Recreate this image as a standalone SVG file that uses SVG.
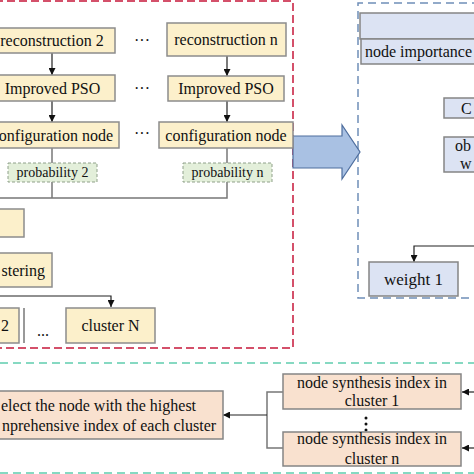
<svg xmlns="http://www.w3.org/2000/svg" width="474" height="474" viewBox="0 0 474 474">
<defs>
<style>
.y{fill:#fcf0cb;stroke:#8c8c8c;stroke-width:1.5}
.b{fill:#dce3f3;stroke:#858585;stroke-width:1.5}
.p{fill:#f9e1cf;stroke:#858585;stroke-width:1.5}
.g{fill:#e3efda;stroke:#8fa08a;stroke-width:1;stroke-dasharray:3 2}
.t{font-family:"Liberation Serif","Times New Roman",serif;font-size:16px;fill:#111}
.s{font-size:14px}
.c{stroke:#222;stroke-width:1.2;fill:none}
.gl{stroke:#777;stroke-width:1.5;fill:none}
</style>
<marker id="ah" viewBox="0 0 10 10" refX="10" refY="5" markerWidth="7" markerHeight="7" markerUnits="userSpaceOnUse" orient="auto">
<path d="M0,0 L10,5 L0,10 z" fill="#111"/>
</marker>
</defs>
<rect width="474" height="474" fill="#fff"/>

<!-- frames -->
<path d="M-5,1 H293 V348 H-5" fill="none" stroke="#d4506a" stroke-width="2" stroke-dasharray="8 4"/>
<path d="M480,3 H358 V298 H480" fill="none" stroke="#6f8fb8" stroke-width="1.5" stroke-dasharray="8 5"/>
<line x1="0" y1="363" x2="474" y2="363" stroke="#5fcdae" stroke-width="1.5" stroke-dasharray="8 5"/>
<line x1="0" y1="473" x2="474" y2="473" stroke="#5fcdae" stroke-width="1.5" stroke-dasharray="8 5"/>

<!-- connectors -->
<g id="connectors">
<line class="c" x1="52" y1="53" x2="52" y2="75" marker-end="url(#ah)"/>
<line class="c" x1="227" y1="56" x2="227" y2="76" marker-end="url(#ah)"/>
<line class="c" x1="52" y1="101" x2="52" y2="122" marker-end="url(#ah)"/>
<line class="c" x1="227" y1="101" x2="227" y2="122" marker-end="url(#ah)"/>
<line class="gl" x1="52" y1="148" x2="52" y2="163"/>
<line class="gl" x1="227" y1="148" x2="227" y2="163"/>
<path class="gl" d="M52,182 V198 M227,182 V198 H-2"/>
<path class="c" d="M-2,296 H111 V307" marker-end="url(#ah)"/>
<line class="gl" x1="24" y1="308" x2="24" y2="343"/>
<path class="c" d="M476,246 H414 V262" marker-end="url(#ah)"/>
<path d="M293,136 H342 V125 L360,152 L342,179 V168 H293 z" fill="#a9c1e3" stroke="#4e6e9e" stroke-width="1.2"/>
<line class="c" x1="476" y1="392" x2="462" y2="392" marker-end="url(#ah)"/>
<line class="c" x1="476" y1="448" x2="462" y2="448" marker-end="url(#ah)"/>
<path class="gl" d="M283,392 H267 V448 H283"/>
<line class="c" x1="267" y1="415" x2="223" y2="415" stroke-width="1.5" marker-end="url(#ah)"/>
</g>

<!-- left column -->
<g id="rec2"><rect class="y" x="-12" y="28" width="127" height="25"/><text class="t" x="52" y="46" text-anchor="middle">reconstruction 2</text></g>
<g id="recn"><rect class="y" x="167" y="23" width="119" height="33"/><text class="t" x="226" y="45" text-anchor="middle">reconstruction n</text></g>
<g id="pso2"><rect class="y" x="-12" y="75" width="127" height="26"/><text class="t" x="52.5" y="94" text-anchor="middle">Improved PSO</text></g>
<g id="psON"><rect class="y" x="168" y="76" width="116" height="25"/><text class="t" x="226" y="94" text-anchor="middle">Improved PSO</text></g>
<g id="cfg2"><rect class="y" x="-15" y="122" width="134" height="26"/><text class="t" x="113" y="141" text-anchor="end">onfiguration node</text></g>
<g id="cfgn"><rect class="y" x="159" y="122" width="134" height="26"/><text class="t" x="226" y="141" text-anchor="middle">configuration node</text></g>
<g id="prob2"><rect class="g" x="8" y="163" width="89" height="19"/><text class="t s" x="52.5" y="177" text-anchor="middle">probability 2</text></g>
<g id="probn"><rect class="g" x="183" y="163" width="89" height="19"/><text class="t s" x="227.5" y="177" text-anchor="middle">probability n</text></g>
<g id="dots"><text class="t" x="142" y="46" text-anchor="middle">···</text><text class="t" x="142" y="94" text-anchor="middle">···</text><text class="t" x="142" y="139" text-anchor="middle">···</text><text class="t" x="43" y="336" text-anchor="middle">...</text></g>
<g id="box5"><rect class="y" x="-10" y="209" width="34" height="28"/></g>
<g id="clustering"><rect class="y" x="-10" y="253" width="62" height="34"/><text class="t" x="45" y="276" text-anchor="end">stering</text></g>
<g id="cluster2"><rect class="y" x="-10" y="308" width="29" height="35"/><text class="t" x="1" y="331">2</text></g>
<g id="clusterN"><rect class="y" x="66" y="308" width="89" height="35"/><text class="t" x="110.5" y="331" text-anchor="middle">cluster N</text></g>

<!-- right panel -->
<g id="topbox"><rect class="b" x="360" y="13" width="120" height="26"/></g>
<g id="nodeimp"><rect class="b" x="361" y="39" width="120" height="25"/><text class="t" x="365" y="57">node importance</text></g>
<g id="cbox"><rect class="b" x="444" y="98" width="40" height="20"/><text class="t" x="461" y="114">C</text></g>
<g id="obbox"><rect class="b" x="444" y="137" width="40" height="35"/><text class="t" x="455" y="151">ob</text><text class="t" x="460" y="169">w</text></g>
<g id="weight1"><rect class="b" x="369" y="262" width="89" height="34"/><text class="t" x="413.5" y="285" text-anchor="middle" style="font-size:17px">weight 1</text></g>

<!-- bottom -->
<g id="select"><rect class="p" x="-10" y="391" width="233" height="48"/><text class="t" x="1" y="411">elect the node with the highest</text><text class="t" x="2" y="431">nprehensive index of each cluster</text></g>
<g id="nsi1"><rect class="p" x="283" y="374" width="178" height="35"/><text class="t" x="372" y="388" text-anchor="middle">node synthesis index in</text><text class="t" x="372" y="406" text-anchor="middle">cluster 1</text></g>
<g id="vdots"><circle cx="366" cy="418" r="1.5" fill="#111"/><circle cx="366" cy="424" r="1.5" fill="#111"/><circle cx="366" cy="430" r="1.5" fill="#111"/></g>
<g id="nsin"><rect class="p" x="283" y="432" width="178" height="34"/><text class="t" x="372" y="444" text-anchor="middle">node synthesis index in</text><text class="t" x="372" y="464" text-anchor="middle">cluster n</text></g>
</svg>
